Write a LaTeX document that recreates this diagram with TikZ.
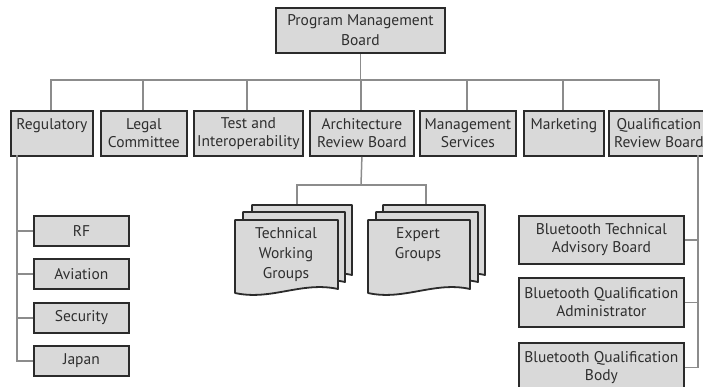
\documentclass[tikz,border=0pt]{standalone}
\usepackage{fontspec}
\setmainfont{PT Sans}
\definecolor{boxfill}{HTML}{D9D9D9}
\definecolor{boxline}{HTML}{2B2B2B}
\definecolor{conn}{HTML}{8C8C8C}
\tikzset{
  orgbox/.style={draw=boxline, fill=boxfill, line width=1.8pt, inner sep=0pt, anchor=north west,
    align=center, font=\fontsize{15.5}{18}\selectfont, text=black!82},
  link/.style={draw=conn, line width=1.5pt},
  sheet/.style={draw=boxline, fill=boxfill, line width=1.8pt, line join=round},
  sheettext/.style={align=center, font=\fontsize{15.5}{20}\selectfont, text=black!82, inner sep=0pt}
}
\newcommand{\docsheet}[4]{% x y w h
  \path[sheet] (#1,#2) -- ({#1+#3},#2) -- ({#1+#3},{#2+#4-4})
    .. controls ({#1+0.65*#3},{#2+#4-12}) and ({#1+0.35*#3},{#2+#4+8}) .. (#1,{#2+#4}) -- cycle;}
\begin{document}
\begin{tikzpicture}[x=1pt,y=-1pt]
\useasboundingbox (0,0) rectangle (703,387);
% top
\node[orgbox, minimum width=169pt, minimum height=45pt, font=\fontsize{15.5}{20}\selectfont] (pmb) at (275,7) {Program Management\\Board};
% row boxes
\node[orgbox, minimum width=82pt, minimum height=45pt] (reg) at (10,110) {Regulatory\\\mbox{}};
\node[orgbox, minimum width=86pt, minimum height=45pt] (legal) at (100,110) {Legal\\Committee};
\node[orgbox, minimum width=109pt, minimum height=45pt] (test) at (193,110) {Test and\\Interoperability};
\node[orgbox, minimum width=104pt, minimum height=45pt] (arb) at (309,110) {Architecture\\Review Board};
\node[orgbox, minimum width=96pt, minimum height=45pt] (mgmt) at (419,110) {Management\\Services};
\node[orgbox, minimum width=80pt, minimum height=45pt] (mkt) at (523,110) {Marketing\\\mbox{}};
\node[orgbox, minimum width=100pt, minimum height=45pt] (qrb) at (608,110) {Qualification\\Review Board};
% bus
\coordinate (busL) at (51,80);
\coordinate (busR) at (659,80);
\draw[link] (pmb.south) -- (pmb.south |- busL);
\draw[link] (reg.north -| busL) -- (busL) -- (busR) -- (qrb.north -| busR);
\foreach \n/\x in {legal/143, test/247, arb/361, mgmt/467, mkt/563}
  \draw[link] (\x,80) -- (\n.north -| {\x,0});
% regulatory children
\node[orgbox, minimum width=95pt, minimum height=30pt] (rf) at (33,215) {RF};
\node[orgbox, minimum width=95pt, minimum height=30pt] (av) at (33,258) {Aviation};
\node[orgbox, minimum width=95pt, minimum height=30pt] (sec) at (33,302) {Security};
\node[orgbox, minimum width=95pt, minimum height=30pt] (jap) at (33,345) {Japan};
\coordinate (regdown) at (17,155);
\draw[link] (regdown) |- (jap.west);
\foreach \n in {rf, av, sec} \draw[link] (regdown |- \n.west) -- (\n.west);
% qualification children
\node[orgbox, minimum width=165pt, minimum height=48pt] (btab) at (518,215) {Bluetooth Technical\\Advisory Board};
\node[orgbox, minimum width=165pt, minimum height=49pt] (bqa) at (518,277) {Bluetooth Qualification\\Administrator};
\node[orgbox, minimum width=165pt, minimum height=49pt] (bqb) at (518,342) {Bluetooth Qualification\\Body};
\coordinate (qdown) at (698,155);
\draw[link] (qdown) |- (bqb.east);
\foreach \n in {btab, bqa} \draw[link] (qdown |- \n.east) -- (\n.east);
% architecture children
\coordinate (arbj) at (361,185);
\coordinate (twgtop) at (297,205);
\coordinate (egtop) at (426,205);
\draw[link] (arb.south) -- (arbj);
\draw[link] (twgtop) |- (arbj) -| (egtop);
\docsheet{252}{205}{100}{74}
\docsheet{243}{212}{102}{74}
\docsheet{235}{220}{103}{73}
\docsheet{383}{205}{102}{74}
\docsheet{376}{212}{102}{74}
\docsheet{368}{220}{102}{73}
\node[sheettext, anchor=north] (twg) at (286,227) {Technical\\Working\\Groups};
\node[sheettext, anchor=north] (eg) at (418,227) {Expert\\Groups};
\end{tikzpicture}
\end{document}
